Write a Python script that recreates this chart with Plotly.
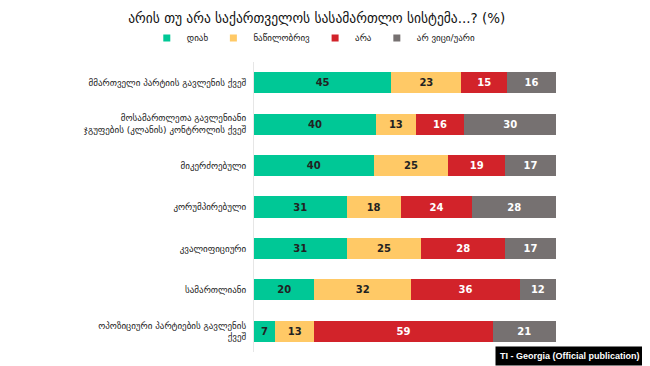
import plotly.graph_objects as go

categories = [
    "მმართველი პარტიის გავლენის ქვეშ",
    "მოსამართლეთა გავლენიანი<br>ჯგუფების (კლანის) კონტროლის ქვეშ",
    "მიკერძოებული",
    "კორუმპირებული",
    "კვალიფიციური",
    "სამართლიანი",
    "ოპოზიციური პარტიების გავლენის<br>ქვეშ",
]
series_names = ["დიახ", "ნაწილობრივ", "არა", "არ ვიცი/უარი"]
yes = [45, 40, 40, 31, 31, 20, 7]
partly = [23, 13, 25, 18, 25, 32, 13]
no = [15, 16, 19, 24, 28, 36, 59]
dont_know = [16, 30, 17, 28, 17, 12, 21]

colors = ["#00C896", "#FFC966", "#D2232A", "#767171"]
text_colors = ["#222222", "#222222", "#FFFFFF", "#FFFFFF"]

fig = go.Figure()
for name, vals, c, tc in zip(series_names, [yes, partly, no, dont_know], colors, text_colors):
    fig.add_trace(go.Bar(
        y=categories, x=vals, name=name, orientation="h", showlegend=False,
        marker=dict(color=c, line=dict(width=0)),
        text=vals, texttemplate="%{text}", textposition="inside",
        insidetextanchor="middle", textangle=0, constraintext="none",
        textfont=dict(color=tc, size=10, family="DejaVu Sans", weight="bold"),
    ))
# legend entries (small square markers)
for name, c in zip(series_names, colors):
    fig.add_trace(go.Scatter(
        x=[None], y=[None], mode="markers", name=name,
        marker=dict(symbol="square", size=7, color=c), showlegend=True,
    ))

fig.update_layout(
    barmode="stack", barnorm="percent", bargap=0.49,
    width=642, height=358,
    margin=dict(l=246, r=94, t=54, b=14),
    paper_bgcolor="white", plot_bgcolor="white",
    font=dict(family="DejaVu Sans", color="#222222"),
    title=dict(text="არის თუ არა საქართველოს სასამართლო სისტემა...? (%)",
               x=0.481, xref="container", y=0.972, yref="container",
               xanchor="center", yanchor="middle",
               font=dict(size=13.5, color="#111111")),
    legend=dict(orientation="h", x=-0.355, xref="paper", xanchor="left",
                y=1.083, yref="paper", yanchor="middle",
                font=dict(size=9), itemwidth=30, traceorder="normal",
                bgcolor="rgba(0,0,0,0)"),
    showlegend=True,
)
fig.update_xaxes(range=[0, 100], visible=False, showgrid=False)
fig.update_yaxes(autorange="reversed", showgrid=False, showline=True, linecolor="#E6E6E6",
                 linewidth=1, ticks="", ticklabelstandoff=5,
                 tickfont=dict(size=9, color="#222222"))

fig.add_annotation(
    text="<b>TI - Georgia (Official publication)</b>", xref="paper", yref="paper",
    x=1.2947, y=-0.048, xanchor="right", yanchor="bottom", showarrow=False,
    bgcolor="black", font=dict(color="white", size=9, family="Liberation Sans"),
    borderpad=4,
)

fig.write_html("out.html")
